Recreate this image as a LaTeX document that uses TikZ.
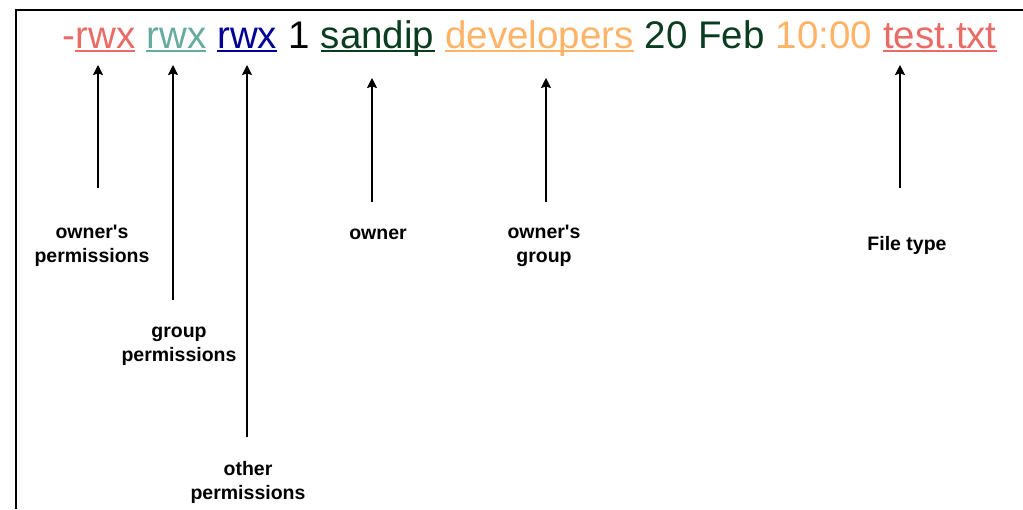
\documentclass[tikz,border=0pt]{standalone}
\usepackage{fontspec}
\setmainfont{Liberation Sans}
\usepackage{tikz}
\usetikzlibrary{positioning,arrows.meta}
\definecolor{permred}{HTML}{EA6B66}
\definecolor{permteal}{HTML}{67AB9F}
\definecolor{permblue}{HTML}{000099}
\definecolor{darkgrn}{HTML}{0A3D20}
\definecolor{peach}{HTML}{FFB366}
\newcommand{\apos}{\textquotesingle}

\begin{document}
\begin{tikzpicture}[x=1pt, y=-1pt,
  lsword/.style={inner sep=0pt, font=\fontsize{38.5}{46}\selectfont},
  lbl/.style={align=center, inner sep=0pt, font=\bfseries\fontsize{19.5}{24}\selectfont},
  arr/.style={-{Stealth[length=10pt,width=10pt,inset=1.5pt]}, line width=1.2pt},
  uline/.style={line width=2.8pt}]
\useasboundingbox (0,0) rectangle (1023,509);
\draw[line width=2pt] (1023,10) -- (16,10) -- (16,509);

% the ls -l line
\node[lsword, text=permred, anchor=base west] (dash) at (62,48) {-};
\node[lsword, text=permred, base right=0pt of dash] (ur) {rwx};
\node[lsword, text=permteal, base right=10.7pt of ur] (gr) {rwx};
\node[lsword, text=permblue, base right=10.7pt of gr] (or) {rwx};
\node[lsword, base right=10.7pt of or] (links) {1};
\node[lsword, text=darkgrn, base right=10.7pt of links] (own) {sandip};
\node[lsword, text=peach, base right=10.7pt of own] (grp) {developers};
\node[lsword, text=darkgrn, base right=10.7pt of grp] (date) {20 Feb};
\node[lsword, text=peach, base right=10.7pt of date] (time) {10:00};
\node[lsword, text=permred, base right=10.7pt of time] (fname) {test.txt};

\foreach \w/\col in {ur/permred, gr/permteal, or/permblue, own/darkgrn, grp/peach, fname/permred}
  \draw[uline, draw=\col] ([yshift=-3pt]\w.base west) -- ([yshift=-3pt]\w.base east);

% labels
\node[lbl] (lownp) at (92,246) {owner\apos s\\permissions};
\node[lbl] (lgrpp) at (179,346) {group\\permissions};
\node[lbl] (lothp) at (248,482) {other\\permissions};
\node[lbl] (lown) at (378,234) {owner};
\node[lbl] (lowng) at (544,246) {owner\apos s\\group};
\node[lbl] (lfile) at (907,245) {File type};

\coordinate (t1) at (98,188);  \coordinate (h1) at (98,65);
\coordinate (t2) at (173,300); \coordinate (h2) at (173,65);
\coordinate (t3) at (247,437); \coordinate (h3) at (247,65);
\coordinate (t4) at (372,202); \coordinate (h4) at (372,78);
\coordinate (t5) at (546,202); \coordinate (h5) at (546,78);
\coordinate (t6) at (900,188); \coordinate (h6) at (900,65);

\draw
	(t1) edge[arr] (h1)
	(t2) edge[arr] (h2)
	(t3) edge[arr] (h3)
	(t4) edge[arr] (h4)
	(t5) edge[arr] (h5)
	(t6) edge[arr] (h6)
;
\end{tikzpicture}
\end{document}
